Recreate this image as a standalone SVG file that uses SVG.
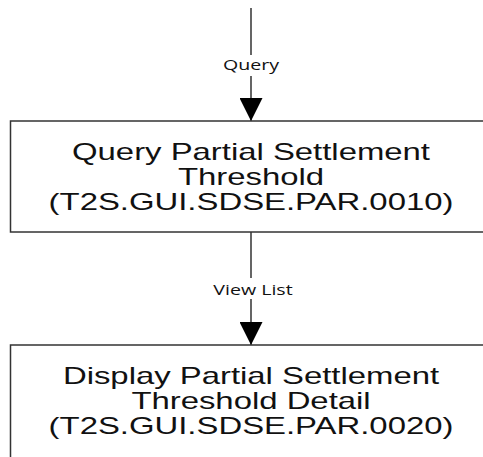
<svg xmlns="http://www.w3.org/2000/svg" width="483" height="457" viewBox="0 0 483 457">
<defs>
<style>
.box{fill:#fff;stroke:#333;stroke-width:1.5}
.t{font-family:"Liberation Sans",Arial,sans-serif;font-size:24px;fill:#111;text-anchor:middle}
.lbl{font-family:"Open Sans","DejaVu Sans",sans-serif;font-size:14px;fill:#111;text-anchor:middle}
.con{fill:none;stroke:#000;stroke-width:1.2}
</style>
<marker id="ah" markerUnits="userSpaceOnUse" markerWidth="23" markerHeight="23" viewBox="0 0 23 23" refX="23" refY="11.5" orient="auto">
<path d="M0,0 L23,11.5 L0,23 Z" fill="#000"/>
</marker>
</defs>
<rect width="483" height="457" fill="#fff"/>
<g id="connectors">
<path class="con" d="M251 8 V55 M251 76 V121" marker-end="url(#ah)"/>
<text class="lbl" transform="translate(251,70) scale(1.4,1)" x="0" y="0">Query</text>
<path class="con" d="M251 232 V278 M251 299 V345" marker-end="url(#ah)"/>
<text class="lbl" transform="translate(253,295) scale(1.4,1)" x="0" y="0">View List</text>
</g>
<g id="node1">
<rect class="box" x="10.5" y="121" width="480" height="111"/>
<g transform="translate(251,0) scale(1.37,1)">
<text class="t" x="0" y="160">Query Partial Settlement</text>
<text class="t" x="0" y="185">Threshold</text>
<text class="t" x="0" y="210">(T2S.GUI.SDSE.PAR.0010)</text>
</g>
</g>
<g id="node2">
<rect class="box" x="10.5" y="345" width="480" height="130"/>
<g transform="translate(251,0) scale(1.37,1)">
<text class="t" x="0" y="384">Display Partial Settlement</text>
<text class="t" x="0" y="409">Threshold Detail</text>
<text class="t" x="0" y="434">(T2S.GUI.SDSE.PAR.0020)</text>
</g>
</g>
</svg>
